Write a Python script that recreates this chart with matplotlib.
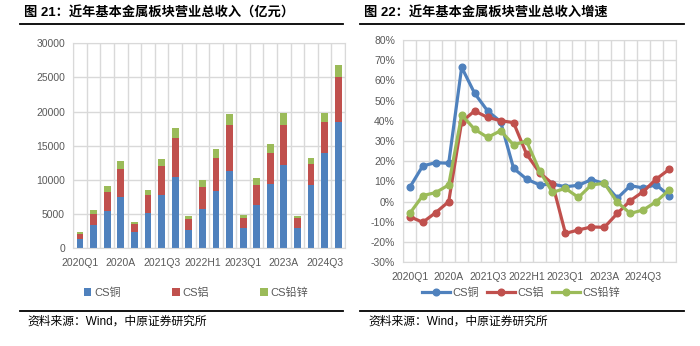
import numpy as np
import matplotlib
matplotlib.use("Agg")
import matplotlib.pyplot as plt
from matplotlib.lines import Line2D

plt.rcParams['font.family'] = ['Liberation Sans Narrow', 'Liberation Sans', 'Noto Sans CJK SC', 'DejaVu Sans']

# categories (cumulative reporting periods)
periods = ['2020Q1', '2020H1', '2020Q3', '2020A', '2021Q1', '2021H1', '2021Q3', '2021A',
           '2022Q1', '2022H1', '2022Q3', '2022A', '2023Q1', '2023H1', '2023Q3', '2023A',
           '2024Q1', '2024H1', '2024Q3', '2024A']
periods_g = periods + ['2025Q1']

# revenue (亿元), stacked segments
rev_cu = [1300, 3300, 5400, 7450, 2300, 5100, 7800, 10350, 2700, 5650, 8400, 11300,
          2900, 6250, 9400, 12200, 3000, 9300, 13850, 18450]
rev_al = [700, 1700, 2850, 4150, 1150, 2700, 4150, 5750, 1600, 3350, 4800, 6750,
          1500, 3050, 4500, 5850, 1350, 3050, 4650, 6550]
rev_pz = [300, 550, 850, 1100, 300, 700, 1050, 1450, 450, 900, 1250, 1600,
          400, 950, 1400, 1700, 400, 850, 1350, 1800]

# growth rates (%)
g_cu = [7.1, 17.7, 19.3, 19.0, 66.5, 53.6, 44.9, 39.6, 16.5, 11.2, 8.3, 8.7,
        7.4, 8.1, 10.9, 9.0, 1.7, 7.9, 6.8, 8.3, 3.0]
g_al = [-7.4, -10.2, -5.4, 0.0, 39.6, 44.9, 41.7, 40.1, 39.1, 23.6, 14.4, 8.9,
        -15.7, -14.0, -12.5, -12.7, -5.8, 0.5, 5.0, 11.2, 16.0]
g_pz = [-5.8, 3.0, 4.5, 8.3, 42.9, 35.8, 31.8, 35.1, 28.1, 30.0, 15.3, 4.6,
        6.6, 2.1, 8.3, 9.1, -0.3, -5.8, -4.1, 0.0, 5.8]

names = ['CS铜', 'CS铝', 'CS铅锌']
colors = ['#4F81BD', '#C0504D', '#9BBB59']
grid_c = '#D9D9D9'
txt_c = '#595959'
tick_font = 7.5

fig = plt.figure(figsize=(7.0, 3.46), dpi=100)


def style_axis(ax, n, labels):
    ax.set_xlim(-0.5, n - 0.5)
    ax.set_xticks(range(0, n, 3))
    ax.set_xticklabels([labels[i] for i in range(0, n, 3)])
    ax.set_xticks(np.arange(-0.5, n, 1), minor=True)
    ax.grid(True, which='minor', axis='x', color=grid_c, lw=1)
    ax.grid(True, which='major', axis='y', color=grid_c, lw=1)
    ax.set_axisbelow(True)
    for s in ax.spines.values():
        s.set_color(grid_c)
    ax.tick_params(which='both', length=0)
    ax.tick_params(axis='x', pad=7, labelsize=tick_font, labelcolor=txt_c)
    ax.tick_params(axis='y', pad=6, labelsize=tick_font, labelcolor=txt_c)


# left: stacked bars
ax1 = fig.add_axes([73.3 / 700, 1 - 248 / 346, 271.7 / 700, 204.7 / 346])
x = np.arange(len(periods))
b1 = np.array(rev_cu)
b2 = b1 + np.array(rev_al)
ax1.bar(x, rev_cu, width=0.5, color=colors[0], label=names[0])
ax1.bar(x, rev_al, width=0.5, bottom=b1, color=colors[1], label=names[1])
ax1.bar(x, rev_pz, width=0.5, bottom=b2, color=colors[2], label=names[2])
ax1.set_ylim(0, 30000)
ax1.set_yticks(range(0, 30001, 5000))
style_axis(ax1, len(periods), periods)
h, l = ax1.get_legend_handles_labels()
fig.legend(h, l, loc='center', bbox_to_anchor=(196 / 700, 1 - 293 / 346), ncol=3,
           frameon=False, fontsize=8, handlelength=0.7, handleheight=0.7,
           handletextpad=0.25, columnspacing=4.6, labelcolor=txt_c)

# right: growth lines
ax2 = fig.add_axes([403.3 / 700, 1 - 262.3 / 346, 272.4 / 700, 222.3 / 346])
xg = np.arange(len(periods_g))
for vals, c, nm in zip([g_cu, g_al, g_pz], colors, names):
    ax2.plot(xg, vals, color=c, lw=2.3, marker='o', ms=4.8, label=nm)
ax2.set_ylim(-30, 80)
ax2.set_yticks(range(-30, 81, 10))
ax2.set_yticklabels([f'{v}%' for v in range(-30, 81, 10)])
style_axis(ax2, len(periods_g), periods_g)
h, l = ax2.get_legend_handles_labels()
fig.legend(h, l, loc='center', bbox_to_anchor=(521 / 700, 1 - 293 / 346), ncol=3,
           frameon=False, fontsize=8, handlelength=2.5, handletextpad=0.25,
           columnspacing=0.7, labelcolor=txt_c)

# titles, rules and source lines
title_kw = dict(fontsize=9.5, fontweight='bold', va='center', ha='left',
                family=['Liberation Sans', 'Noto Sans CJK SC'])
fig.text(24 / 700, 1 - 13 / 346, '图 21：近年基本金属板块营业总收入（亿元）', **title_kw)
fig.text(364 / 700, 1 - 13 / 346, '图 22：近年基本金属板块营业总收入增速', **title_kw)
for x0, x1 in [(20, 343), (360, 684)]:
    fig.add_artist(Line2D([x0 / 700, x1 / 700], [1 - 24 / 346] * 2, color='black', lw=1.3))
    fig.add_artist(Line2D([x0 / 700, x1 / 700], [1 - 310.5 / 346] * 2, color='black', lw=1.3))
src_kw = dict(fontsize=8.5, va='center', ha='left', family=['Liberation Sans', 'Noto Sans CJK SC'])
fig.text(27 / 700, 1 - 322 / 346, '资料来源：Wind，中原证券研究所', **src_kw)
fig.text(368 / 700, 1 - 322 / 346, '资料来源：Wind，中原证券研究所', **src_kw)

fig.savefig('out.png', dpi=100)
